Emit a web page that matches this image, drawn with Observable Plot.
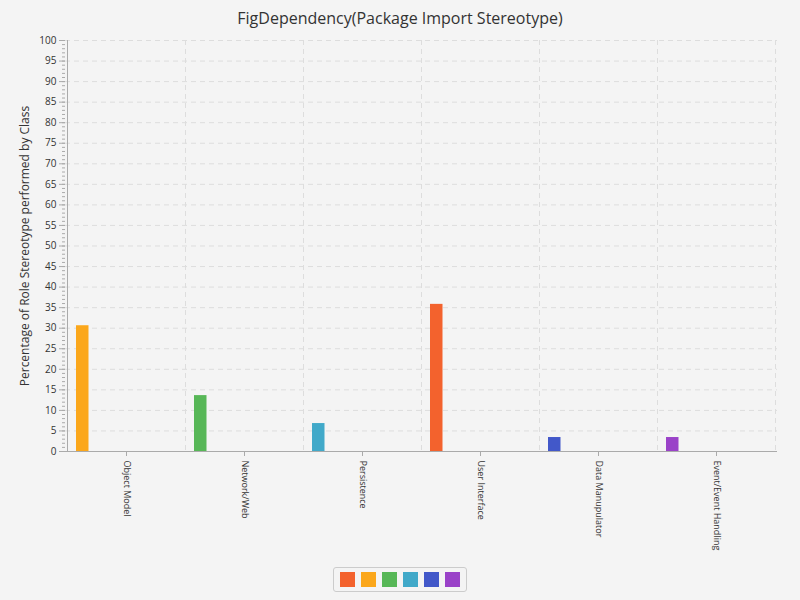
<!DOCTYPE html>
<html>
<head>
<meta charset="utf-8">
<script src="https://cdn.jsdelivr.net/npm/d3@7"></script>
<script src="https://cdn.jsdelivr.net/npm/@observablehq/plot@0.6"></script>
<style>
  body { margin: 0; background: #f4f4f4; font-family: "Open Sans", "Noto Sans", sans-serif; }
  #title { height: 32px; line-height: 36px; text-align: center; font-size: 16px; color: #333; }
  #legend { display: flex; justify-content: center; margin-top: 6px; }
  #legend .box { display: flex; gap: 6px; padding: 4px 6px; border: 1px solid #ccc; border-radius: 3px; background: #f4f4f4; }
  #legend .sw { width: 15px; height: 15px; }
</style>
</head>
<body>
<div id="title">FigDependency(Package Import Stereotype)</div>
<div id="plot"></div>
<div id="legend"><div class="box"></div></div>
<script>
const categories = ["Object Model", "Network/Web", "Persistence", "User Interface", "Data Manupulator", "Event/Event Handling"];
const values = [30.6, 13.6, 6.8, 35.8, 3.4, 3.4];
const barColors = ["#fba71b", "#57b757", "#41a9c9", "#f3622d", "#4258c9", "#9a42c8"];
const legendColors = ["#f3622d", "#fba71b", "#57b757", "#41a9c9", "#4258c9", "#9a42c8"];

const data = categories.map((c, i) => ({ cat: c, value: values[i], color: barColors[i] }));

const plot = Plot.plot({
  width: 800,
  height: 529,
  marginTop: 8,
  marginLeft: 65,
  marginRight: 23,
  marginBottom: 110,
  style: { background: "#f4f4f4", color: "#333", fontFamily: "'Open Sans', sans-serif", fontSize: "10px" },
  x: { domain: categories, padding: 0, label: null },
  y: { domain: [0, 100], label: null },
  marks: [
    Plot.ruleY(d3.range(5, 101, 5), { stroke: "#ddd", strokeDasharray: "5,4" }),
    Plot.ruleX(categories, { x: d => d, dx: 59, stroke: "#ddd", strokeDasharray: "5,4" }),
    Plot.barY(data, { x: "cat", y: "value", fill: "color", insetLeft: 9, insetRight: 96.5 }),
    Plot.axisY({ ticks: d3.range(0, 101, 1), tickSize: 3, text: null, stroke: "#aaa" }),
    Plot.axisY({ ticks: d3.range(0, 101, 5), tickSize: 6, tickFormat: d => d, stroke: "#aaa", fill: "#333",
      label: "Percentage of Role Stereotype performed by Class", labelAnchor: "center", labelOffset: 45, labelArrow: "none", fontSize: 10 }),
    Plot.axisX({ tickRotate: 90, tickSize: 5, stroke: "#aaa", fill: "#333", label: null, fontSize: 9 }),
    Plot.ruleY([0], { stroke: "#aaa" }),
    Plot.ruleX([categories[0]], { x: d => d, dx: -59, stroke: "#aaa" })
  ]
});
plot.querySelectorAll("[aria-label='y-axis label'] text").forEach(t => t.style.fontSize = "12px");
document.getElementById("plot").appendChild(plot);

const box = document.querySelector("#legend .box");
legendColors.forEach(c => {
  const s = document.createElement("div");
  s.className = "sw";
  s.style.background = c;
  box.appendChild(s);
});
</script>
</body>
</html>
